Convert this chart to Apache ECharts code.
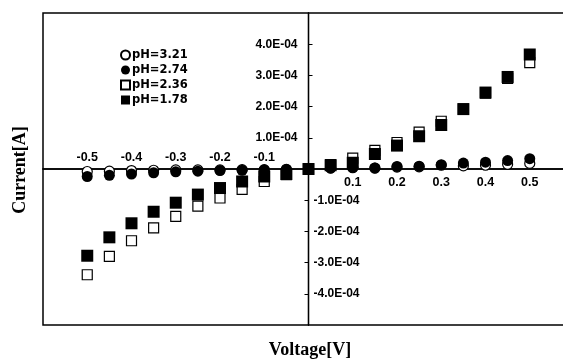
<!DOCTYPE html>
<html>
<head>
<meta charset="utf-8">
<script src="https://cdn.jsdelivr.net/npm/echarts@6/dist/echarts.min.js"></script>
<style>html,body{margin:0;padding:0;background:#fff}#c{width:563px;height:360px}</style>
</head>
<body>
<div id="c"></div>
<script>
const voltage = [-0.5,-0.45,-0.4,-0.35,-0.3,-0.25,-0.2,-0.15,-0.1,-0.05,0,0.05,0.1,0.15,0.2,0.25,0.3,0.35,0.4,0.45,0.5];
// currents in units of 1E-04 A
const ph321 = [-0.08,-0.07,-0.05,-0.04,-0.03,-0.03,-0.03,-0.02,-0.02,-0.01,0,0.03,0.04,0.03,0.06,0.07,0.12,0.10,0.12,0.15,0.18];
const ph274 = [-0.24,-0.20,-0.16,-0.12,-0.09,-0.07,-0.05,-0.04,-0.03,-0.02,0,0.03,0.05,0.03,0.08,0.09,0.14,0.19,0.22,0.27,0.33];
const ph236 = [-3.39,-2.80,-2.30,-1.89,-1.52,-1.19,-0.93,-0.65,-0.40,-0.18,0,0.14,0.35,0.60,0.85,1.18,1.53,1.92,2.43,2.90,3.41];
const ph178 = [-2.78,-2.19,-1.74,-1.37,-1.08,-0.82,-0.61,-0.40,-0.24,-0.16,0,0.12,0.20,0.48,0.75,1.05,1.41,1.92,2.45,2.95,3.67];
const seriesNames = ['pH=3.21','pH=2.74','pH=2.36','pH=1.78'];
const xTicksNeg = [-0.5,-0.4,-0.3,-0.2,-0.1];
const xTicksPos = [0.1,0.2,0.3,0.4,0.5];
const yTicksPos = [1e-4,2e-4,3e-4,4e-4];
const yTicksNeg = [-1e-4,-2e-4,-3e-4,-4e-4];

const scale = 1e-4;
const pairs = arr => voltage.map((v,i) => [v, arr[i]*scale]);
const fmtY = v => (v/1e-4).toFixed(1) + 'E-04';
const fmtX = v => String(Math.round(v*10)/10);

// layout
const G = {left:43, top:13, width:531, height:312};
const xMin = -0.6, xMax = 0.6, yMin = -5e-4, yMax = 5e-4;
const yAxisShift = G.width * (0 - xMin) / (xMax - xMin);       // distance of x=0 from grid left
const xAxisShift = G.height * (0 - yMin) / (yMax - yMin);      // distance of y=0 from grid bottom

const tickFont = {fontFamily:'Liberation Sans', fontWeight:'bold', color:'#000'};
const chart = echarts.init(document.getElementById('c'), null, {renderer:'canvas'});
const baseX = {
  type:'value', min:xMin, max:xMax,
  axisLine:{onZero:false, lineStyle:{color:'#000', width:1.5}},
  axisTick:{show:false}, splitLine:{show:false}
};
const baseY = {
  type:'value', min:yMin, max:yMax,
  axisLine:{onZero:false, lineStyle:{color:'#000', width:1.3}},
  splitLine:{show:false}
};
const mk = (o) => Object.assign({opacity:1}, o);
chart.setOption({
  animation:false,
  backgroundColor:'#fff',
  grid:{left:G.left, top:G.top, width:G.width, height:G.height, show:true, borderColor:'#000', borderWidth:1.5,
    backgroundColor:'transparent', containLabel:false, outerBoundsMode:'none'},
  legend:{
    orient:'vertical', left:115, top:44, itemWidth:9, itemHeight:9, itemGap:3,
    textStyle:{fontFamily:'DejaVu Sans', fontWeight:'bold', fontSize:11.5, color:'#000', padding:[0,0,0,-3]},
    data:[
      {name:seriesNames[0], icon:'circle'},
      {name:seriesNames[1], icon:'circle'},
      {name:seriesNames[2], icon:'rect'},
      {name:seriesNames[3], icon:'rect'}
    ]
  },
  xAxis:[
    Object.assign({}, baseX, {position:'bottom', offset:-xAxisShift,
      axisLabel:Object.assign({customValues:xTicksPos, formatter:fmtX, fontSize:12.5, margin:7}, tickFont)}),
    Object.assign({}, baseX, {position:'top', offset:-(G.height - xAxisShift),
      axisLabel:Object.assign({customValues:xTicksNeg, formatter:fmtX, fontSize:12.5, margin:5}, tickFont)})
  ],
  yAxis:[
    Object.assign({}, baseY, {position:'left', offset:-yAxisShift,
      axisTick:{show:true, inside:true, length:4, customValues:yTicksPos, lineStyle:{color:'#000'}},
      axisLabel:Object.assign({customValues:yTicksPos, formatter:fmtY, fontSize:12, margin:11}, tickFont)}),
    Object.assign({}, baseY, {position:'right', offset:-(G.width - yAxisShift),
      axisTick:{show:true, inside:true, length:4, customValues:yTicksNeg, lineStyle:{color:'#000'}},
      axisLabel:Object.assign({customValues:yTicksNeg, formatter:fmtY, fontSize:12, margin:5}, tickFont)})
  ],
  graphic:[
    {type:'text', x:20, y:170, rotation:Math.PI/2,
      style:{text:'Current[A]', x:0, y:0, align:'center', verticalAlign:'middle', font:'bold 18px "Liberation Serif"', fill:'#000'}},
    {type:'text', style:{text:'Voltage[V]', x:310, y:350, align:'center', verticalAlign:'middle', font:'bold 18px "Liberation Serif"', fill:'#000'}}
  ],
  series:[
    {name:seriesNames[0], type:'scatter', data:pairs(ph321), symbol:'circle', symbolSize:10,
      itemStyle:mk({color:'#fff', borderColor:'#000', borderWidth:1.2})},
    {name:seriesNames[1], type:'scatter', data:pairs(ph274), symbol:'circle', symbolSize:11,
      itemStyle:mk({color:'#000', borderColor:'#000', borderWidth:0})},
    {name:seriesNames[2], type:'scatter', data:pairs(ph236), symbol:'rect', symbolSize:10,
      itemStyle:mk({color:'#fff', borderColor:'#000', borderWidth:1.2})},
    {name:seriesNames[3], type:'scatter', data:pairs(ph178), symbol:'rect', symbolSize:12,
      itemStyle:mk({color:'#000', borderColor:'#000', borderWidth:0})}
  ]
});
</script>
</body>
</html>
